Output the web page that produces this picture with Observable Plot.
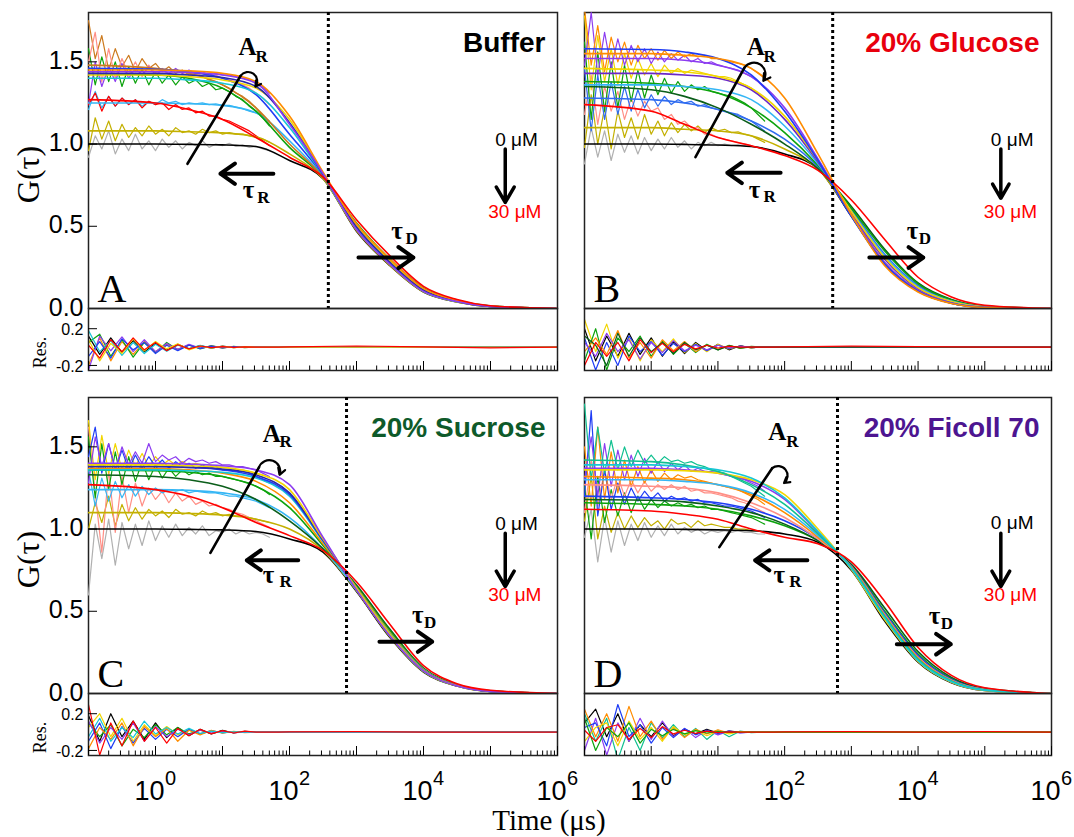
<!DOCTYPE html>
<html><head><meta charset="utf-8">
<script src="https://cdn.jsdelivr.net/npm/d3@7"></script>
<script src="https://cdn.jsdelivr.net/npm/@observablehq/plot@0.6"></script>
<style>
html,body{margin:0;padding:0;background:#fff;}
#fig{position:relative;width:1074px;height:837px;overflow:hidden;background:#fff;}
.xlabel{position:absolute;left:0;width:1098px;text-align:center;font-family:"Liberation Serif","Times New Roman",serif;font-size:29px;line-height:22px;top:809px;}
</style></head><body><div id="fig"><div class="xlabel">Time (μs)</div></div>
<script>
// ---------- shared grids ----------
const FIT_T = [0.1, 1, 3.16, 10, 31.6, 100, 316, 1000, 3160, 10000, 31600, 100000, 1000000];
const DATA_T = [0.1,0.126,0.158,0.2,0.251,0.316,0.398,0.501,0.631,0.794,1,1.26,1.58,2,2.51,3.16,3.98,5.01,6.31,7.94,10,12.6,15.8,20,25.1,31.6,39.8,50.1];
const RES_T = [0.1, 0.147, 0.215, 0.316, 0.464, 0.681, 1, 1.47, 2.15, 3.16, 4.64, 6.81, 10, 14.7, 21.5, 31.6, 46.4, 68.1, 100, 1000, 10000, 100000, 1000000];
const X_TICKS = [1, 100, 10000, 1000000];
const X_EXP = ["0", "2", "4", "6"];
const Y_TICKS = [0, 0.5, 1, 1.5];
const RES_TICKS = [-0.2, 0.2];

const COLORS = {black:"#000000", gray:"#b0b0b0", olive:"#c3b000", red:"#ff0000", ltblue:"#35b6f5", green:"#0da30d",
  dkorange:"#cc7a1e", blue:"#1f3df5", cyan:"#16c6d6", yellow:"#f2d600", navy:"#2a2aa8", orange:"#ff8c00",
  purple:"#8c3cf0", dkgreen:"#0b5e1a", purple2:"#6a28c8", blue2:"#2f6cf0", salmon:"#ff8f86", teal:"#10c090"};

// ---------- Panel A : Buffer ----------
const fitNamesA = ["black","olive","ltblue","green","dkorange","blue","cyan","yellow","navy","orange","purple","red"];
const fitA = [
  [1.00,1.00,0.998,0.995,0.985,0.90,0.79,0.47,0.26,0.10,0.04,0.012,0],
  [1.08,1.08,1.075,1.068,1.045,0.94,0.79,0.475,0.262,0.101,0.04,0.012,0],
  [1.25,1.25,1.245,1.235,1.19,1.02,0.80,0.485,0.27,0.105,0.042,0.013,0],
  [1.43,1.42,1.40,1.34,1.20,0.98,0.80,0.52,0.30,0.125,0.05,0.015,0],
  [1.48,1.46,1.43,1.36,1.22,1.00,0.80,0.50,0.285,0.115,0.047,0.014,0],
  [1.46,1.455,1.44,1.40,1.30,1.06,0.81,0.505,0.29,0.118,0.048,0.014,0],
  [1.40,1.40,1.39,1.37,1.31,1.10,0.81,0.51,0.295,0.12,0.049,0.015,0],
  [1.42,1.42,1.41,1.39,1.34,1.15,0.82,0.505,0.29,0.118,0.048,0.014,0],
  [1.43,1.43,1.42,1.405,1.35,1.13,0.815,0.495,0.28,0.112,0.045,0.013,0],
  [1.45,1.45,1.445,1.43,1.38,1.17,0.83,0.515,0.30,0.122,0.05,0.015,0],
  [1.44,1.44,1.435,1.42,1.37,1.12,0.82,0.48,0.268,0.104,0.042,0.012,0],
  [1.27,1.25,1.21,1.15,1.04,0.92,0.80,0.54,0.32,0.135,0.055,0.017,0]
];
const dataNamesA = ["gray","olive","ltblue","green","dkorange","salmon","purple","red"];
const dataA = [
  [0.92,1.05,0.97,1.08,0.94,1.03,0.96,1.06,0.97,1.02,0.96,1.03,0.98,1.02,0.97,1.01,0.99,1.02,0.98,1.0,0.99,1.005,0.985,0.995,0.98,0.985,0.97,0.96],
  [0.96,1.16,1.03,1.14,1.02,1.12,1.04,1.1,1.05,1.11,1.06,1.09,1.05,1.1,1.07,1.08,1.06,1.09,1.07,1.08,1.06,1.07,1.06,1.06,1.05,1.04,1.03,1.01],
  [1.21,1.32,1.22,1.29,1.23,1.28,1.24,1.27,1.23,1.26,1.24,1.27,1.25,1.26,1.24,1.25,1.245,1.25,1.24,1.245,1.235,1.235,1.225,1.215,1.2,1.19,1.17,1.14],
  [1.58,1.36,1.53,1.38,1.5,1.35,1.47,1.37,1.46,1.36,1.44,1.37,1.42,1.36,1.41,1.37,1.39,1.35,1.37,1.33,1.34,1.32,1.29,1.27,1.23,1.2,1.16,1.11],
  [1.75,1.52,1.66,1.45,1.58,1.47,1.54,1.44,1.52,1.46,1.49,1.44,1.47,1.43,1.45,1.42,1.43,1.41,1.39,1.38,1.36,1.34,1.31,1.29,1.26,1.22,1.17,1.12],
  [1.5,1.68,1.38,1.58,1.4,1.52,1.42,1.5,1.41,1.48,1.43,1.46,1.42,1.45,1.43,1.44,1.42,1.43,1.41,1.42,1.4,1.39,1.38,1.36,1.34,1.31,1.28,1.24],
  [1.24,1.5,1.35,1.47,1.38,1.49,1.4,1.46,1.42,1.47,1.42,1.45,1.43,1.46,1.43,1.45,1.43,1.44,1.42,1.43,1.42,1.42,1.41,1.4,1.39,1.37,1.35,1.31],
  [1.24,1.31,1.2,1.29,1.23,1.28,1.24,1.27,1.22,1.26,1.24,1.25,1.21,1.24,1.21,1.22,1.19,1.2,1.17,1.17,1.15,1.14,1.12,1.1,1.08,1.05,1.02,0.99]
];
const resNamesA = ["black","orange","green","purple","cyan","blue","yellow","red"];
const resA = [
  [0.12,-0.08,0.10,-0.06,0.07,-0.05,0.04,-0.035,0.03,-0.02,0.015,-0.012,0.01,-0.006,0.004,-0.002,0.002,0,0,0,0,0,0],
  [-0.2,0.10,-0.15,0.06,-0.08,0.06,-0.05,0.03,-0.025,0.02,-0.012,0.01,-0.008,0.005,-0.003,0.003,0,0,0,0,0,0,0],
  [0.05,0.14,-0.1,0.08,-0.11,0.05,-0.06,0.05,-0.03,0.025,-0.02,0.015,-0.01,0.008,-0.005,0.003,0.002,0,0,0,-0.002,0,0],
  [-0.25,0.12,-0.04,0.11,-0.05,0.08,-0.05,0.04,-0.025,0.03,-0.012,0.012,-0.004,0.006,-0.002,0.002,0,0,0,0,0,0,0],
  [0.18,-0.05,0.07,-0.09,0.05,-0.07,0.03,-0.045,0.02,-0.015,0.02,-0.01,0.006,-0.004,0.003,0,0,0,0,0,0,0,0],
  [-0.1,0.06,-0.12,0.09,-0.03,0.05,-0.07,0.02,-0.04,0.02,-0.015,0.008,-0.01,0.004,-0.003,0.002,0,0,0,0,0,0,0],
  [0.08,-0.15,0.04,-0.07,0.09,-0.04,0.06,-0.02,0.035,-0.03,0.01,-0.01,0.008,-0.005,0.002,0,0,0,0,0,0,0,0],
  [0.02,-0.12,0.08,-0.05,0.1,-0.03,0.05,-0.04,0.025,-0.02,0.012,-0.006,0.005,-0.003,0.002,0,0,0,0.003,0.012,0.003,-0.008,0]
];

// ---------- Panel B : 20% Glucose ----------
const fitNamesB = ["black","olive","blue2","dkgreen","green","ltblue","purple2","yellow","purple","blue","orange","red"];
const fitB = [
  [1.00,1.00,0.998,0.994,0.985,0.94,0.85,0.56,0.27,0.105,0.032,0.007,0],
  [1.10,1.10,1.09,1.08,1.05,0.97,0.85,0.57,0.28,0.11,0.035,0.008,0],
  [1.28,1.27,1.25,1.21,1.14,1.03,0.86,0.60,0.33,0.14,0.048,0.012,0],
  [1.35,1.33,1.29,1.22,1.12,1.00,0.85,0.62,0.36,0.155,0.055,0.015,0],
  [1.38,1.37,1.35,1.31,1.22,1.07,0.87,0.61,0.35,0.15,0.052,0.014,0],
  [1.36,1.36,1.35,1.33,1.27,1.11,0.88,0.59,0.32,0.13,0.045,0.011,0],
  [1.43,1.43,1.42,1.40,1.33,1.15,0.89,0.58,0.30,0.12,0.04,0.009,0],
  [1.46,1.45,1.44,1.41,1.34,1.17,0.90,0.59,0.31,0.125,0.042,0.01,0],
  [1.52,1.52,1.51,1.48,1.41,1.22,0.91,0.57,0.28,0.11,0.035,0.008,0],
  [1.58,1.575,1.56,1.52,1.42,1.20,0.90,0.56,0.27,0.105,0.032,0.007,0],
  [1.55,1.55,1.54,1.52,1.46,1.28,0.94,0.57,0.26,0.10,0.03,0.006,0],
  [1.24,1.20,1.12,1.04,0.99,0.93,0.84,0.66,0.42,0.19,0.07,0.02,0]
];
const dataNamesB = ["gray","olive","salmon","green","blue2","yellow","purple","orange"];
const dataB = [
  [0.88,1.1,0.92,1.08,0.9,1.06,0.95,1.05,0.94,1.04,0.96,1.03,0.97,1.04,0.98,1.02,0.97,1.01,0.99,1.01,0.99,1.0,0.99,0.995,0.99,0.985,0.98,0.97],
  [0.98,1.3,1.0,1.22,0.97,1.2,1.04,1.16,1.03,1.18,1.06,1.14,1.05,1.13,1.07,1.12,1.08,1.11,1.07,1.1,1.08,1.09,1.07,1.075,1.06,1.05,1.03,1.01],
  [1.18,1.42,1.12,1.35,1.2,1.32,1.15,1.28,1.17,1.26,1.2,1.22,1.15,1.18,1.12,1.14,1.1,1.1,1.06,1.06,1.04,1.03,1.02,1.01,1.0,0.99,0.98,0.97],
  [1.62,1.15,1.56,1.2,1.5,1.22,1.48,1.26,1.45,1.28,1.42,1.3,1.4,1.31,1.38,1.32,1.36,1.33,1.35,1.32,1.31,1.3,1.29,1.27,1.25,1.22,1.18,1.14],
  [1.46,1.08,1.42,1.15,1.38,1.18,1.35,1.2,1.33,1.22,1.3,1.23,1.29,1.24,1.27,1.25,1.26,1.23,1.24,1.22,1.21,1.2,1.19,1.18,1.16,1.14,1.11,1.08],
  [1.78,1.33,1.66,1.38,1.58,1.36,1.55,1.4,1.52,1.42,1.49,1.41,1.48,1.43,1.46,1.43,1.45,1.44,1.43,1.42,1.41,1.41,1.4,1.38,1.36,1.34,1.31,1.27],
  [1.48,1.8,1.42,1.68,1.46,1.64,1.48,1.6,1.5,1.58,1.49,1.56,1.5,1.55,1.51,1.54,1.5,1.52,1.49,1.5,1.48,1.47,1.46,1.45,1.43,1.41,1.38,1.34],
  [1.82,1.48,1.72,1.44,1.65,1.5,1.62,1.48,1.6,1.52,1.58,1.51,1.57,1.52,1.56,1.53,1.55,1.53,1.54,1.52,1.52,1.51,1.5,1.49,1.48,1.46,1.43,1.4]
];
const resNamesB = ["black","yellow","green","blue","orange","purple","dkgreen","red"];
const resB = [
  [0.2,-0.15,0.12,-0.1,0.15,-0.08,0.1,-0.1,0.06,-0.07,0.05,-0.04,0.03,-0.03,0.015,-0.01,0.005,0,0,0,0,0,0],
  [0.3,-0.05,0.25,-0.12,0.1,-0.15,0.08,-0.05,0.09,-0.06,0.04,-0.05,0.03,-0.02,0.01,-0.01,0.005,0,0,0,0,0,0],
  [-0.15,0.2,-0.25,0.1,-0.05,0.12,-0.1,0.07,-0.08,0.04,-0.06,0.03,-0.03,0.02,-0.015,0.008,0,0,0,0,0,0,0],
  [0.1,-0.25,0.05,-0.2,0.12,-0.05,0.06,-0.09,0.04,-0.05,0.03,-0.04,0.02,-0.015,0.01,-0.005,0,0,0,0,0,0,0],
  [-0.05,0.1,-0.08,0.18,-0.12,0.05,-0.12,0.08,-0.04,0.06,-0.05,0.02,-0.025,0.015,-0.01,0.005,0,0,0,0,0,0,0],
  [0.05,-0.1,0.15,-0.05,0.08,-0.13,0.05,-0.06,0.07,-0.04,0.02,-0.03,0.02,-0.01,0.008,0,0,0,0,0,0,0,0],
  [0.12,0.02,-0.2,0.15,-0.1,0.1,-0.05,0.05,-0.07,0.05,-0.03,0.02,-0.03,0.015,-0.008,0,0,0,0,0,0,0,0],
  [-0.2,0.05,-0.1,0.05,-0.15,0.08,-0.06,0.04,-0.05,0.03,-0.02,0.02,-0.01,0.008,0,0,0,0,0.003,0.01,0.005,0,0]
];

// ---------- Panel C : 20% Sucrose ----------
const fitNamesC = ["black","olive","ltblue","dkgreen","green","orange","cyan","blue","navy","yellow","purple","red"];
const fitC = [
  [1.00,1.00,0.998,0.995,0.985,0.94,0.86,0.62,0.34,0.13,0.045,0.012,0],
  [1.10,1.10,1.095,1.085,1.06,1.00,0.87,0.625,0.345,0.133,0.046,0.012,0],
  [1.24,1.24,1.235,1.22,1.18,1.07,0.88,0.63,0.35,0.136,0.047,0.013,0],
  [1.33,1.32,1.30,1.26,1.18,1.05,0.88,0.66,0.39,0.155,0.054,0.016,0],
  [1.36,1.355,1.345,1.32,1.26,1.13,0.90,0.65,0.38,0.15,0.052,0.015,0],
  [1.37,1.37,1.36,1.34,1.29,1.16,0.91,0.645,0.37,0.147,0.051,0.015,0],
  [1.36,1.36,1.355,1.345,1.31,1.20,0.925,0.64,0.365,0.145,0.05,0.014,0],
  [1.38,1.38,1.375,1.36,1.32,1.21,0.93,0.64,0.36,0.142,0.049,0.014,0],
  [1.38,1.38,1.375,1.365,1.33,1.22,0.935,0.635,0.355,0.14,0.048,0.013,0],
  [1.39,1.39,1.385,1.375,1.34,1.24,0.94,0.64,0.36,0.14,0.048,0.014,0],
  [1.40,1.40,1.395,1.385,1.36,1.27,0.95,0.63,0.35,0.138,0.047,0.013,0],
  [1.27,1.24,1.20,1.13,1.04,0.96,0.87,0.68,0.42,0.17,0.06,0.02,0]
];
const dataNamesC = ["gray","olive","salmon","ltblue","green","yellow","blue","purple"];
const dataC = [
  [0.6,1.03,0.82,1.06,0.78,1.04,0.88,1.03,0.9,1.05,0.93,1.02,0.95,1.03,0.96,1.01,0.97,1.02,0.96,0.99,0.98,1.0,0.97,0.99,0.97,0.98,0.97,0.95],
  [1.0,1.16,1.04,1.2,1.02,1.15,1.05,1.13,1.06,1.12,1.08,1.11,1.07,1.12,1.09,1.1,1.08,1.11,1.09,1.1,1.08,1.09,1.08,1.08,1.07,1.06,1.05,1.04],
  [1.62,1.22,0.86,1.36,0.98,1.32,1.1,1.28,1.14,1.25,1.18,1.23,1.16,1.22,1.17,1.2,1.15,1.17,1.14,1.15,1.13,1.12,1.1,1.09,1.07,1.05,1.03,1.01],
  [1.36,1.14,1.31,1.17,1.29,1.19,1.27,1.2,1.26,1.21,1.25,1.22,1.24,1.23,1.24,1.22,1.23,1.225,1.22,1.22,1.21,1.2,1.2,1.19,1.18,1.17,1.15,1.13],
  [1.56,1.19,1.52,1.24,1.47,1.27,1.44,1.29,1.41,1.3,1.39,1.31,1.37,1.32,1.36,1.33,1.35,1.33,1.34,1.32,1.32,1.31,1.3,1.29,1.28,1.26,1.24,1.21],
  [1.66,1.3,1.57,1.34,1.52,1.36,1.48,1.38,1.46,1.38,1.44,1.39,1.42,1.39,1.41,1.39,1.4,1.39,1.39,1.38,1.375,1.37,1.36,1.36,1.35,1.34,1.33,1.31],
  [1.44,1.62,1.34,1.52,1.36,1.48,1.36,1.45,1.37,1.44,1.38,1.42,1.37,1.41,1.38,1.4,1.37,1.39,1.37,1.38,1.36,1.36,1.35,1.35,1.34,1.32,1.3,1.28],
  [1.28,1.56,1.38,1.52,1.36,1.5,1.39,1.47,1.4,1.52,1.41,1.45,1.42,1.44,1.4,1.43,1.41,1.42,1.4,1.41,1.39,1.39,1.38,1.38,1.37,1.36,1.34,1.32]
];
const resNamesC = ["black","yellow","blue","green","orange","purple","cyan","red"];
const resC = [
  [0.18,-0.1,0.2,-0.05,0.12,-0.08,0.1,-0.06,0.05,-0.04,0.03,-0.02,0.02,-0.01,0.008,0,0,0,0,0,0,0.005,0],
  [0.05,0.2,-0.05,0.15,-0.1,0.08,-0.04,0.06,-0.03,0.02,-0.02,0.01,-0.01,0.005,0,0,0,0,0,0,0,0,0],
  [-0.1,0.1,-0.18,0.06,-0.12,0.04,-0.08,0.03,-0.05,0.03,-0.02,0.015,-0.008,0.004,0,0,0,0,0,0,0,0,0],
  [0.1,-0.05,0.08,-0.15,0.03,-0.06,0.08,-0.03,0.05,-0.02,0.02,-0.015,0.01,-0.004,0.003,0,0,0,0,0,0,0,0],
  [-0.18,0.05,-0.08,0.1,-0.15,0.06,-0.05,0.04,-0.1,0.02,-0.03,0.02,-0.01,0.008,-0.005,0,0,0,0,0,0,0,0],
  [0.12,-0.12,0.05,-0.08,0.1,-0.1,0.06,-0.05,0.03,-0.03,0.02,-0.01,0.008,-0.005,0,0,0,0,0,0,0,0,0],
  [-0.05,0.15,-0.1,0.05,-0.06,0.12,-0.02,0.05,-0.02,0.04,-0.015,0.01,-0.005,0.003,0,0,0,0,0,0,0,0.003,0],
  [0.3,-0.25,0.1,-0.15,0.12,-0.1,0.05,-0.12,0.04,-0.04,0.03,-0.02,0.015,-0.01,0.01,0,0,0,0.003,0.005,0,0,0]
];

// ---------- Panel D : 20% Ficoll 70 ----------
const fitNamesD = ["black","green","dkgreen","blue","salmon","orange","ltblue","purple","yellow","teal","cyan","red"];
const fitD = [
  [1.00,1.00,0.998,0.995,0.99,0.97,0.92,0.75,0.44,0.19,0.065,0.018,0],
  [1.16,1.15,1.14,1.12,1.08,1.02,0.93,0.78,0.50,0.24,0.09,0.028,0],
  [1.18,1.175,1.165,1.14,1.10,1.03,0.93,0.785,0.52,0.255,0.098,0.031,0],
  [1.20,1.19,1.18,1.16,1.12,1.05,0.94,0.775,0.49,0.23,0.085,0.026,0],
  [1.27,1.26,1.25,1.22,1.16,1.07,0.94,0.77,0.48,0.22,0.08,0.024,0],
  [1.32,1.31,1.30,1.27,1.21,1.10,0.95,0.77,0.475,0.215,0.078,0.023,0],
  [1.30,1.30,1.29,1.27,1.22,1.12,0.96,0.765,0.465,0.205,0.073,0.021,0],
  [1.37,1.37,1.36,1.34,1.29,1.18,0.98,0.76,0.455,0.198,0.07,0.02,0],
  [1.36,1.36,1.355,1.34,1.30,1.21,1.00,0.755,0.45,0.195,0.068,0.019,0],
  [1.42,1.41,1.39,1.35,1.27,1.15,0.97,0.765,0.47,0.21,0.076,0.022,0],
  [1.39,1.39,1.38,1.36,1.31,1.19,0.985,0.76,0.46,0.20,0.071,0.02,0],
  [1.12,1.11,1.09,1.06,1.00,0.95,0.91,0.80,0.56,0.28,0.11,0.035,0]
];
const dataNamesD = ["gray","olive","green","salmon","blue","orange","purple","teal"];
const dataD = [
  [0.95,1.12,0.8,1.07,0.86,1.05,0.9,1.03,0.93,1.04,0.95,1.02,0.96,1.03,0.97,1.01,0.98,1.0,0.97,0.99,0.98,0.99,0.98,0.99,0.98,0.98,0.97,0.97],
  [1.05,1.32,0.94,1.14,0.98,1.1,1.0,1.08,1.01,1.07,1.02,1.05,1.0,1.06,1.03,1.04,1.01,1.05,1.02,1.03,1.02,1.01,1.01,1.0,1.0,0.99,0.99,0.98],
  [1.26,0.94,1.32,1.04,1.24,1.08,1.22,1.1,1.2,1.12,1.18,1.13,1.17,1.14,1.16,1.14,1.15,1.13,1.14,1.12,1.12,1.11,1.1,1.09,1.08,1.07,1.05,1.03],
  [1.1,1.42,1.14,1.36,1.18,1.32,1.2,1.3,1.22,1.29,1.23,1.27,1.24,1.27,1.24,1.26,1.23,1.24,1.22,1.22,1.21,1.2,1.19,1.17,1.16,1.14,1.12,1.1],
  [1.2,1.72,1.08,1.36,1.12,1.28,1.15,1.25,1.17,1.23,1.18,1.22,1.17,1.2,1.18,1.19,1.17,1.18,1.16,1.16,1.15,1.14,1.14,1.13,1.12,1.11,1.09,1.07],
  [1.5,1.14,1.62,1.18,1.47,1.22,1.42,1.26,1.38,1.28,1.36,1.29,1.34,1.3,1.33,1.31,1.32,1.3,1.29,1.28,1.27,1.26,1.25,1.24,1.22,1.2,1.18,1.15],
  [1.3,1.56,1.2,1.52,1.26,1.48,1.3,1.45,1.32,1.43,1.34,1.41,1.35,1.4,1.36,1.39,1.35,1.37,1.35,1.35,1.34,1.33,1.32,1.31,1.3,1.28,1.26,1.23],
  [1.76,1.3,1.62,1.34,1.54,1.36,1.5,1.38,1.48,1.4,1.45,1.4,1.44,1.41,1.42,1.4,1.41,1.39,1.38,1.36,1.35,1.34,1.32,1.3,1.28,1.26,1.23,1.2]
];
const resNamesD = ["black","teal","purple","orange","blue","yellow","green","red"];
const resD = [
  [0.1,0.25,-0.05,0.2,-0.1,0.08,-0.05,0.1,-0.04,0.03,-0.02,0.03,-0.01,0.01,0,0,0,0,0,0,0,0.005,0],
  [0.2,-0.1,0.15,-0.3,0.05,-0.2,0.1,-0.06,0.08,-0.05,0.04,-0.08,0.02,-0.05,0.01,-0.005,0,0,0,0,0,0,0],
  [-0.2,0.15,-0.25,0.1,-0.1,0.15,-0.08,0.12,-0.05,0.04,-0.06,0.02,-0.03,0.01,-0.01,0,0,0,0,0,0,0,0],
  [0.25,-0.05,0.2,-0.1,0.28,-0.05,0.12,-0.08,0.05,-0.06,0.03,-0.02,0.025,-0.01,0.005,0,0,0,0,0,0,0,0],
  [0.05,0.1,-0.15,0.3,-0.05,0.08,-0.12,0.05,-0.06,0.04,-0.03,0.02,-0.015,0.01,-0.005,0,0,0,0,0,0,0,0],
  [-0.1,0.05,0.1,-0.15,0.12,-0.08,0.05,-0.1,0.06,-0.03,0.02,-0.04,0.01,-0.02,0.005,0,0,0,0,0,0,0,0],
  [0.15,-0.2,0.05,-0.05,0.1,-0.12,0.03,-0.04,0.03,-0.02,0.015,-0.01,0.005,-0.003,0,0,0,0,0,0,0,0,0],
  [0.02,-0.1,0.05,0.08,-0.08,0.04,-0.06,0.06,-0.02,0.02,-0.015,0.01,-0.005,0.003,0,0,0,0,0.003,0.006,0,0.004,0]
];

// ---------- layout / rendering ----------
const SANS = '"Liberation Sans", Arial, Helvetica, sans-serif';
const SERIF = '"Liberation Serif", "Times New Roman", serif';
const W = 1074;
const X_DOMAIN = [0.1, 1e6];
const Y_MAIN = [0, 1.8];
const Y_RES = [-0.255, 0.42];
const MAIN_H = 296, RES_H = 62;
const MAJOR = d3.range(-1, 7).map(e => Math.pow(10, e));
const MINOR = d3.range(-1, 6).flatMap(e => d3.range(2, 10).map(k => k * Math.pow(10, e)));

function rows(tau, names, table) {
  return names.flatMap((n, i) => table[i].map((g, j) => ({t: tau[j], g, c: COLORS[n], s: i})));
}
const fig = document.getElementById("fig");
function place(svg, top) {
  svg.style.position = "absolute"; svg.style.left = "0px"; svg.style.top = top + "px";
  fig.appendChild(svg);
}

const panels = [
  {id:"A", left:88, right:557, top:0, resTop:298, yLab:true, xLab:false, title:"Buffer", tcol:"#000000", dotted:380,
   fitN:fitNamesA, fit:fitA, dataN:dataNamesA, data:dataA, resN:resNamesA, res:resA,
   ann:{ar:[[3.0,0.88],[18.6,1.415]], hook:[18.6,1.415,31,1.35], arA:[17.4,1.54], arS:[31,1.50],
        tr:[57.5,9.3,0.82], trT:[20,0.67], trS:[33,0.64], td:[1070,7080,0.31], tdT:[3300,0.425], tdS:[5400,0.395],
        conc:[1.66e5,0.99,0.97,0.645,0.553]}},
  {id:"B", left:584, right:1051, top:0, resTop:298, yLab:false, xLab:false, title:"20% Glucose", tcol:"#e8000d", dotted:525,
   fitN:fitNamesB, fit:fitB, dataN:dataNamesB, data:dataB, resN:resNamesB, res:resB,
   ann:{ar:[[4.6,0.92],[25,1.465]], hook:[25,1.465,48,1.385], arA:[27,1.54], arS:[48,1.50],
        tr:[87,13.8,0.825], trT:[29,0.675], trS:[48,0.645], td:[1860,12000,0.31], tdT:[6760,0.425], tdS:[10200,0.395],
        conc:[1.74e5,0.99,0.97,0.67,0.553]}},
  {id:"C", left:88, right:557, top:385, resTop:683, yLab:true, xLab:true, title:"20% Sucrose", tcol:"#0e5a2a", dotted:710,
   fitN:fitNamesC, fit:fitC, dataN:dataNamesC, data:dataC, resN:resNamesC, res:resC,
   ann:{ar:[[6.6,0.855],[35,1.375]], hook:[35,1.375,71,1.33], arA:[40,1.53], arS:[71,1.50],
        tr:[135,23,0.81], trT:[40,0.675], trS:[71,0.645], td:[2200,13500,0.315], tdT:[6760,0.43], tdS:[10200,0.40],
        conc:[1.66e5,0.995,0.975,0.65,0.56]}},
  {id:"D", left:584, right:1051, top:385, resTop:683, yLab:false, xLab:true, title:"20% Ficoll 70", tcol:"#4d1591", dotted:620,
   fitN:fitNamesD, fit:fitD, dataN:dataNamesD, data:dataD, resN:resNamesD, res:resD,
   ann:{ar:[[10.5,0.89],[65,1.37]], hook:[65,1.37,98,1.28], arA:[57,1.54], arS:[106,1.50],
        tr:[219,36,0.81], trT:[68,0.675], trS:[117,0.645], td:[4800,31000,0.30], tdT:[14400,0.42], tdS:[21900,0.39],
        conc:[1.74e5,1.0,0.975,0.65,0.565]}}
];

function txt(pt, s, o) {
  return Plot.text([pt], {x: d => d[0], y: d => d[1], text: () => s, textAnchor: "start", lineAnchor: "bottom", ...o});
}

for (const p of panels) {
  const a = p.ann;
  const fw = p.right - p.left;
  const annFont = {fontFamily: SERIF, fontWeight: "bold", fontSize: 25, fill: "#000"};
  const subFont = {fontFamily: SERIF, fontWeight: "bold", fontSize: 17, fill: "#000"};
  const marks = [
    Plot.frame({stroke: "#222", strokeWidth: 1.5}),
    Plot.line(rows(DATA_T, p.dataN, p.data), {x: "t", y: "g", z: "s", stroke: "c", strokeWidth: 1.2, clip: true}),
    Plot.line(rows(FIT_T, p.fitN, p.fit), {x: "t", y: "g", z: "s", stroke: "c", strokeWidth: 1.6, curve: "monotone-x", clip: true}),
    Plot.ruleX([p.dotted], {stroke: "#000", strokeWidth: 3, strokeDasharray: "3,3"}),
    // annotations
    Plot.line(a.ar, {stroke: "#000", strokeWidth: 2.6}),
    Plot.arrow([a.hook], {x1: d => d[0], y1: d => d[1], x2: d => d[2], y2: d => d[3], bend: 90, headLength: 9, strokeWidth: 2.2, stroke: "#000"}),
    txt(a.arA, "A", annFont), txt(a.arS, "R", subFont),
    Plot.arrow([a.tr], {x1: d => d[0], x2: d => d[1], y1: d => d[2], y2: d => d[2], strokeWidth: 4, headLength: 14, headAngle: 70, stroke: "#000"}),
    txt(a.trT, "τ", annFont), txt(a.trS, "R", subFont),
    Plot.arrow([a.td], {x1: d => d[0], x2: d => d[1], y1: d => d[2], y2: d => d[2], strokeWidth: 4, headLength: 14, headAngle: 70, stroke: "#000"}),
    txt(a.tdT, "τ", annFont), txt(a.tdS, "D", subFont),
    txt([a.conc[0], a.conc[1]], "0 μM", {dx: -10, fontSize: 19, fontFamily: SANS, fill: "#000"}),
    Plot.arrow([a.conc], {x1: d => d[0], x2: d => d[0], y1: d => d[2], y2: d => d[3], strokeWidth: 3.5, headLength: 13, headAngle: 60, stroke: "#000"}),
    txt([a.conc[0], a.conc[4]], "30 μM", {dx: -17, fontSize: 19, fontFamily: SANS, fill: "#ff0000"}),
    Plot.text([p.id], {frameAnchor: "bottom-left", dx: 9, dy: -7, text: d => d, fontSize: 40, fontFamily: SERIF, textAnchor: "start", lineAnchor: "bottom"}),
    Plot.text([p.title], {frameAnchor: "top-right", dx: -12, dy: 20, text: d => d, fontSize: 28, fontWeight: "bold", fontFamily: SANS, fill: p.tcol, textAnchor: "end", lineAnchor: "top"})
  ];
  if (p.yLab) {
    marks.push(
      Plot.tickY([0.5, 1, 1.5], {stroke: "#000", insetRight: fw - 9}),
      Plot.axisY(Y_TICKS, {tickSize: 0, tickPadding: 5, dy: -1, tickFormat: d => d.toFixed(1), fontSize: 25, fontFamily: SANS, label: null}),
      Plot.text(["G(τ)"], {frameAnchor: "left", dx: -60, dy: 14, rotate: -90, text: d => d, fontSize: 32, fontFamily: SERIF, textAnchor: "middle", lineAnchor: "middle"})
    );
  }
  const main = Plot.plot({
    width: W, height: MAIN_H + 24, marginTop: 12, marginBottom: 12, marginLeft: p.left, marginRight: W - p.right,
    x: {type: "log", domain: X_DOMAIN, axis: null},
    y: {domain: Y_MAIN, axis: null},
    color: {type: "identity"},
    style: {background: "transparent", overflow: "visible"},
    marks
  });
  place(main, p.top);

  const mb = p.xLab ? 92 : 10;
  const rmarks = [
    Plot.line(rows(RES_T, p.resN, p.res), {x: "t", y: "g", z: "s", stroke: "c", strokeWidth: 1.2, clip: true}),
    Plot.frame({stroke: "#222", strokeWidth: 1.5}),
    Plot.tickX(MAJOR, {stroke: "#000", insetTop: RES_H - 9}),
    Plot.tickX(MINOR, {stroke: "#000", insetTop: RES_H - 4.5})
  ];
  if (p.yLab) {
    rmarks.push(
      Plot.tickY(RES_TICKS, {stroke: "#000", insetRight: fw - 9}),
      Plot.axisY(RES_TICKS, {tickSize: 0, tickPadding: 5, dy: 1, tickFormat: d => d.toFixed(1), fontSize: 16, fontFamily: SANS, label: null}),
      Plot.text(["Res."], {frameAnchor: "left", dx: -48, dy: 13, rotate: -90, text: d => d, fontSize: 18, fontFamily: SERIF, textAnchor: "middle", lineAnchor: "middle"})
    );
  }
  if (p.xLab) {
    rmarks.push(
      Plot.text(X_TICKS, {x: d => d, frameAnchor: "bottom", text: () => "10", dx: -6, dy: 36, fontSize: 27, fontFamily: SANS, textAnchor: "middle", lineAnchor: "middle"}),
      Plot.text(X_TICKS, {x: d => d, frameAnchor: "bottom", text: (d, i) => X_EXP[i], dx: 15, dy: 23, fontSize: 20, fontFamily: SANS, textAnchor: "middle", lineAnchor: "middle"})
    );
  }
  const res = Plot.plot({
    width: W, height: 10 + RES_H + mb, marginTop: 10, marginBottom: mb, marginLeft: p.left, marginRight: W - p.right,
    x: {type: "log", domain: X_DOMAIN, axis: null},
    y: {domain: Y_RES, axis: null},
    color: {type: "identity"},
    style: {background: "transparent", overflow: "visible"},
    marks: rmarks
  });
  place(res, p.resTop);
}
</script></body></html>
